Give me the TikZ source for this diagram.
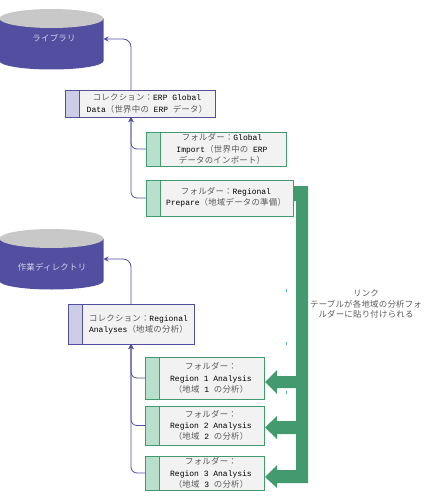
\documentclass[tikz,border=0pt]{standalone}
\usepackage{fontspec}
\usetikzlibrary{arrows.meta}
\setmainfont{Liberation Mono}
\newfontfamily\cjkfont[LetterSpace=3]{Noto Sans CJK JP}
\definecolor{jptext}{HTML}{5A5A5A}
\newcommand{\jp}[1]{{\cjkfont\mdseries\fontsize{8.4}{11}\selectfont\color{jptext}#1}}
\definecolor{navy}{HTML}{524EA0}
\definecolor{navylight}{HTML}{CDCDE8}
\definecolor{grn}{HTML}{429A6E}
\definecolor{grnlight}{HTML}{B9E0CC}
\definecolor{boxfill}{HTML}{F2F2F2}
\definecolor{tick}{HTML}{5AA5E0}
\definecolor{drumtop}{HTML}{C8C8C8}
\tikzset{
  bodybox/.style={draw=#1,line width=0.8pt,fill=boxfill,anchor=north west,inner sep=0pt,outer sep=0pt},
  stripebox/.style={draw=#1,line width=0.8pt,anchor=north west,inner sep=0pt,outer sep=0pt},
  boxtext/.style={font=\fontsize{8}{11.2}\selectfont,align=center,inner sep=0pt,text=black},
  drum/.style={minimum width=104pt,minimum height=60pt,inner sep=0pt,outer sep=0pt,anchor=north west},
  conn/.style={draw=navy,line width=0.8pt,-{Stealth[length=5pt,width=5pt]}},
}
\newcommand{\drumshape}[1]{%
  \fill[navy] (-0.5,#1+9.5) -- (-0.5,#1+52) arc[start angle=180,end angle=0,x radius=52,y radius=8.5]
    -- (103.5,#1+9.5) -- cycle;
  \fill[drumtop] (51.5,#1+9.5) ellipse[x radius=52,y radius=9.5];
}
\begin{document}
\begin{tikzpicture}[x=1pt,y=-1pt]
\useasboundingbox (0,0) rectangle (423,500);
% thick green link
\fill[grn] (290,186) -- (308,186) -- (308,483) -- (277,483) -- (277,488) -- (265,477)
  -- (277,465) -- (277,470) -- (296,470) -- (296,434) -- (277,434) -- (277,439) -- (265,427.5)
  -- (277,416) -- (277,421) -- (296,421) -- (296,388) -- (277,388) -- (277,394) -- (265,382)
  -- (277,370) -- (277,376) -- (296,376) -- (296,201) -- (290,201) -- cycle;
% drums
\drumshape{9}
\node[drum] (lib) at (-0.5,9) {};
\node (libt) at (54,38.5) {\jp{\color{white!75!navy}ライブラリ}};
\drumshape{229}
\node[drum] (wrk) at (-0.5,229) {};
\node (wrkt) at (52,267) {\jp{\color{white!75!navy}作業ディレクトリ}};
% collection 1
\node[bodybox=navy,minimum width=150pt,minimum height=27pt] (c1) at (65,90) {};
\node[stripebox=navy,fill=navylight,minimum width=14pt,minimum height=27pt] (c1s) at (65,90) {};
\node[boxtext] (c1t) at (147,103.5) {\jp{コレクション：}ERP Global\\Data\jp{（世界中の} ERP \jp{データ）}};
% folder global import
\node[bodybox=grn,minimum width=140pt,minimum height=34pt] (f1) at (146,132) {};
\node[stripebox=grn,fill=grnlight,minimum width=14pt,minimum height=34pt] (f1s) at (146,132) {};
\node[boxtext] (f1t) at (222,149) {\jp{フォルダー：}Global\\Import\jp{（世界中の} ERP\\\jp{データのインポート）}};
% folder regional prepare
\node[bodybox=grn,minimum width=147pt,minimum height=36pt] (f2) at (146,180) {};
\node[stripebox=grn,fill=grnlight,minimum width=14pt,minimum height=36pt] (f2s) at (146,180) {};
\node[boxtext] (f2t) at (226,197.5) {\jp{フォルダー：}Regional\\Prepare\jp{（地域データの準備）}};
% collection 2
\node[bodybox=navy,minimum width=126pt,minimum height=40pt] (c2) at (68.5,304) {};
\node[stripebox=navy,fill=navylight,minimum width=14pt,minimum height=40pt] (c2s) at (68.5,304) {};
\node[boxtext] (c2t) at (138.5,324.5) {\jp{コレクション：}Regional\\Analyses\jp{（地域の分析）}};
% regional folders
\node[bodybox=grn,minimum width=119pt,minimum height=42pt] (r1) at (145.5,357) {};
\node[stripebox=grn,fill=grnlight,minimum width=14pt,minimum height=42pt] (r1s) at (145.5,357) {};
\node[boxtext] (r1t) at (211,378) {\jp{フォルダー：}\\Region 1 Analysis\\\jp{（地域} 1 \jp{の分析）}};
\node[bodybox=grn,minimum width=119pt,minimum height=39pt] (r2) at (145.5,406) {};
\node[stripebox=grn,fill=grnlight,minimum width=14pt,minimum height=39pt] (r2s) at (145.5,406) {};
\node[boxtext] (r2t) at (211,425.5) {\jp{フォルダー：}\\Region 2 Analysis\\\jp{（地域} 2 \jp{の分析）}};
\node[bodybox=grn,minimum width=119pt,minimum height=34pt] (r3) at (145.5,456) {};
\node[stripebox=grn,fill=grnlight,minimum width=14pt,minimum height=34pt] (r3s) at (145.5,456) {};
\node[boxtext] (r3t) at (211,473) {\jp{フォルダー：}\\Region 3 Analysis\\\jp{（地域} 3 \jp{の分析）}};
% note
\node[align=center,inner sep=0pt,font=\fontsize{8}{10.5}\selectfont] (note) at (366,304)
  {\jp{リンク}\\\jp{テーブルが各地域の分析フォ}\\\jp{ルダーに貼り付けられる}};
% connectors
\coordinate (upA) at (131,90);
\coordinate (dnA) at (131,117);
\coordinate (upB) at (131,304);
\coordinate (dnB) at (131,344);
\draw[conn,rounded corners=8pt] (upA) |- (lib.east);
\draw[conn,rounded corners=6pt] (f1.west) -| (dnA);
\draw[conn,rounded corners=6pt] (f2.west) -| (dnA);
\draw[conn,rounded corners=8pt] (upB) |- (wrk.east);
\draw[conn,rounded corners=6pt] (r1.west) -| (dnB);
\draw[conn,rounded corners=6pt] (r2.west) -| (dnB);
\draw[conn,rounded corners=6pt] (r3.west) -| (dnB);
% small marks
\fill[tick] (285.7,289) rectangle (286.5,291.5);
\fill[tick] (285.7,342) rectangle (286.5,344.5);
\fill[tick] (285.7,391) rectangle (286.5,393.5);
\end{tikzpicture}
\end{document}
